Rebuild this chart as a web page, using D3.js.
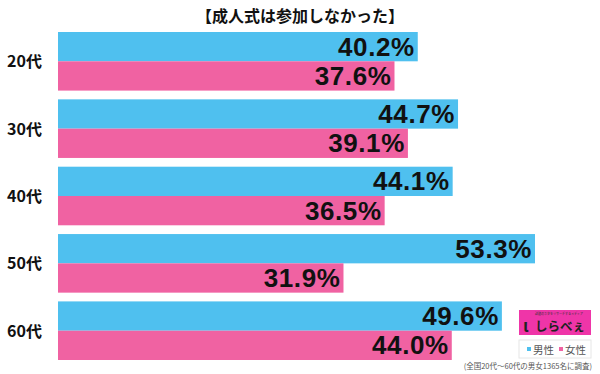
<!DOCTYPE html>
<html>
<head>
<meta charset="utf-8">
<script src="https://cdn.jsdelivr.net/npm/d3@7"></script>
<style>
    body { margin: 0; background: #fff; }
    svg { display: block; font-family: "Noto Sans CJK JP", "Noto Sans", sans-serif; }
</style>
</head>
<body>
<div id="chart"></div>
<script>
// Values
const categories = ["20代", "30代", "40代", "50代", "60代"];
const male = [40.2, 44.7, 44.1, 53.3, 49.6];
const female = [37.6, 39.1, 36.5, 31.9, 44.0];
const seriesNames = ["男性", "女性"];
const colors = ["#4fc0ef", "#f062a2"];

const width = 600, height = 374;

const svg = d3.select("#chart").append("svg")
    .attr("width", width)
    .attr("height", height);

// Title
svg.append("text")
    .attr("x", 300)
    .attr("y", 22)
    .attr("text-anchor", "middle")
    .attr("font-size", 16)
    .attr("font-weight", "bold")
    .attr("fill", "#111")
    .text("【成人式は参加しなかった】");

const x = d3.scaleLinear()
    .domain([0, 53.3])
    .range([58, 535]);

const y = d3.scaleBand()
    .domain(categories)
    .range([32, 360])
    .paddingInner(0.13)
    .paddingOuter(0);

const groups = svg.selectAll("g.group")
    .data(categories)
    .join("g")
        .attr("class", "group")
        .attr("transform", d => `translate(0,${y(d)})`);

const barH = y.bandwidth() / 2;

groups.each(function(cat, i) {
    const g = d3.select(this);
    [male[i], female[i]].forEach((v, j) => {
        g.append("rect")
            .attr("x", x(0))
            .attr("y", j * barH)
            .attr("width", x(v) - x(0))
            .attr("height", barH)
            .attr("fill", colors[j]);
        g.append("text")
            .attr("x", x(v) - 3)
            .attr("y", j * barH + barH / 2 + 9)
            .attr("text-anchor", "end")
            .attr("font-family", "Liberation Sans, Arial, sans-serif")
            .attr("font-size", 26)
            .attr("letter-spacing", 0.6)
            .attr("font-weight", "bold")
            .attr("fill", "#111")
            .text(v.toFixed(1) + "%");
    });
    g.append("text")
        .attr("x", 7)
        .attr("y", barH + 6)
        .attr("font-size", 16)
        .attr("font-weight", "bold")
        .attr("fill", "#111")
        .text(cat);
});

// Logo
const logo = svg.append("g").attr("transform", "translate(519,310)");
logo.append("rect")
    .attr("width", 72)
    .attr("height", 25)
    .attr("fill", "#ef35a8");
logo.append("text")
    .attr("x", 40)
    .attr("y", 4.5)
    .attr("text-anchor", "middle")
    .attr("font-size", 3)
    .attr("fill", "#333")
    .text("話題のネタをリサーチするメディア");
logo.append("text")
    .attr("x", 4)
    .attr("y", 22)
    .attr("font-size", 17)
    .attr("font-weight", "bold")
    .attr("fill", "#222")
    .text("ι");
logo.append("text")
    .attr("x", 16)
    .attr("y", 21)
    .attr("font-size", 12.5)
    .attr("font-weight", "bold")
    .attr("fill", "#222")
    .text("しらべぇ");

// Legend
const legend = svg.append("g").attr("transform", "translate(519,340)");
legend.append("rect")
    .attr("width", 72)
    .attr("height", 18)
    .attr("fill", "#fff")
    .attr("stroke", "#e6e6e6");
seriesNames.forEach((name, i) => {
    legend.append("rect")
        .attr("x", 8 + i * 32)
        .attr("y", 7)
        .attr("width", 4)
        .attr("height", 4)
        .attr("fill", colors[i]);
    legend.append("text")
        .attr("x", 14 + i * 32)
        .attr("y", 13.5)
        .attr("font-size", 10.5)
        .attr("fill", "#555")
        .text(name);
});

// Footnote
svg.append("text")
    .attr("x", 592)
    .attr("y", 369)
    .attr("text-anchor", "end")
    .attr("font-size", 7.5)
    .attr("fill", "#555")
    .text("(全国20代〜60代の男女1365名に調査)");
</script>
</body>
</html>
